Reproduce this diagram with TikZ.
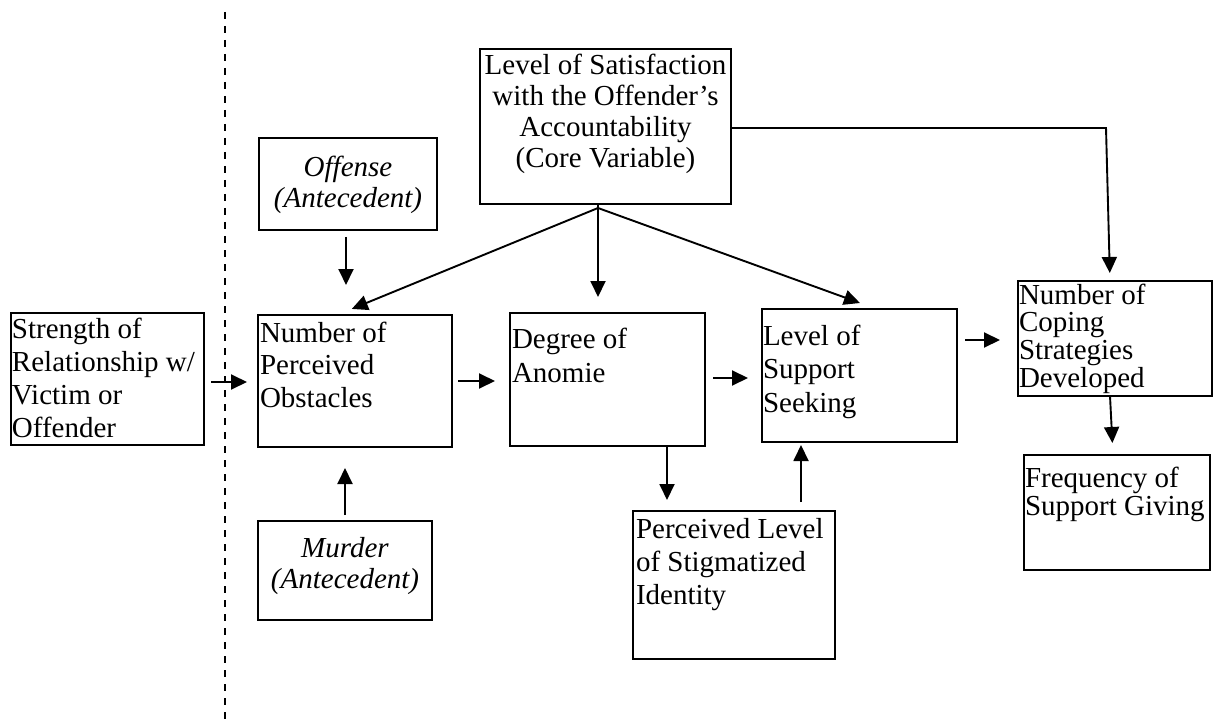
\documentclass[tikz,border=0pt]{standalone}
\usepackage{fontspec}
\setmainfont{Liberation Serif}
\usetikzlibrary{arrows.meta,calc}
% #1 width, #2 height, #3 first baseline offset, #4 line spacing, #5 alignment, #6 text
\newcommand\boxtxt[6]{\parbox[c][#2pt][t]{#1pt}{\fontsize{29pt}{#4pt}\selectfont#5\rule{0pt}{#3pt}#6}}
\newcommand\lft[1]{\raggedright\leftskip=#1pt\relax}
\begin{document}
\begin{tikzpicture}[x=1pt,y=-1pt,
  box/.style={draw, line width=2pt, inner sep=0pt, outer sep=0pt, anchor=north west},
  thinbox/.style={box, line width=1.1pt},
  arr/.style={-{Triangle[length=16pt,width=15pt]}, line width=1.9pt},
  plainline/.style={line width=1.9pt},
  divider/.style={line width=2pt, dash pattern=on 7pt off 7pt}]
\useasboundingbox (0,0) rectangle (1214,719);

\draw[divider] (225,12) -- (225,719);

\node[box] (strength) at (11,313) {\boxtxt{193}{132}{25}{33}{\lft{1}}{Strength of\\Relationship w/\\Victim or\\Offender}};
\node[box] (number) at (258,315) {\boxtxt{194}{132}{27}{32.5}{\lft{2}}{Number of\\Perceived\\Obstacles}};
\node[box] (offense) at (259,138) {\boxtxt{178}{92}{39}{31}{\centering}{\itshape Offense\\(Antecedent)}};
\node[box] (murder) at (258,521) {\boxtxt{174}{99}{36}{31}{\centering}{\itshape Murder\\(Antecedent)}};
\node[box] (core) at (480,49) {\boxtxt{251}{155}{26}{31}{\centering}{Level of Satisfaction\\with the Offender’s\\Accountability\\(Core Variable)}};
\node[box] (degree) at (510,313) {\boxtxt{195}{133}{35}{34}{\lft{2}}{Degree of\\Anomie}};
\node[box] (support) at (762,309) {\boxtxt{195}{133}{36}{33.5}{\lft{1}}{Level of\\Support\\Seeking}};
\node[thinbox] (perceived) at (633,511) {\boxtxt{202}{148}{27}{33}{\lft{3}}{Perceived Level\\of Stigmatized\\Identity}};
\node[box] (coping) at (1018,281) {\boxtxt{194}{115}{23}{27.7}{\lft{1}}{Number of\\Coping\\Strategies\\Developed}};
\node[box] (freq) at (1024,455) {\boxtxt{186}{115}{32}{28}{\lft{1}}{Frequency of\\Support Giving}};

\coordinate (fork) at (598,208);
\coordinate (corner) at (1106,128);

% horizontal chain
\draw[arr, shorten <=7pt, shorten >=11pt] ([yshift=-3pt]strength.east) -- ([yshift=-1pt]number.west);
\draw[arr, shorten <=6pt, shorten >=15pt] (number.east) -- (number.east -| degree.west);
\draw[arr, shorten <=8pt, shorten >=14pt] ([yshift=1.5pt]degree.east) -- ([yshift=1.5pt]degree.east -| support.west);
\draw[arr, shorten <=8pt, shorten >=18pt] ([yshift=-1.5pt]coping.west -| support.east) -- ([yshift=-1.5pt]coping.west);

% antecedents
\draw[arr, shorten <=7pt, shorten >=30pt] (346,0 |- offense.south) -- (346,0 |- number.north);
\draw[arr, shorten <=6pt, shorten >=21pt] (345,0 |- murder.north) -- (345,0 |- number.south);

% stigmatized identity
\draw[arr, shorten >=11pt] (667,0 |- degree.south) -- (667,0 |- perceived.north);
\draw[arr, shorten <=9pt, shorten >=3pt] (801,0 |- perceived.north) -- (801,0 |- support.south);

% core variable
\draw[plainline] (core.south -| fork) -- (fork);
\draw[arr, shorten >=16pt] (fork) -- ([xshift=-18pt]number.north);
\draw[arr, shorten >=16pt] (fork) -- (fork |- degree.north);
\draw[arr, shorten >=17.6pt] (fork) -- ([xshift=17pt]support.north);
\draw[arr, shorten >=8pt] (core.east |- corner) -- (corner) -- (1110,0 |- coping.north);

% coping to frequency
\draw[arr, shorten >=12pt] (1110,0 |- coping.south) -- (1113,0 |- freq.north);
\end{tikzpicture}
\end{document}
